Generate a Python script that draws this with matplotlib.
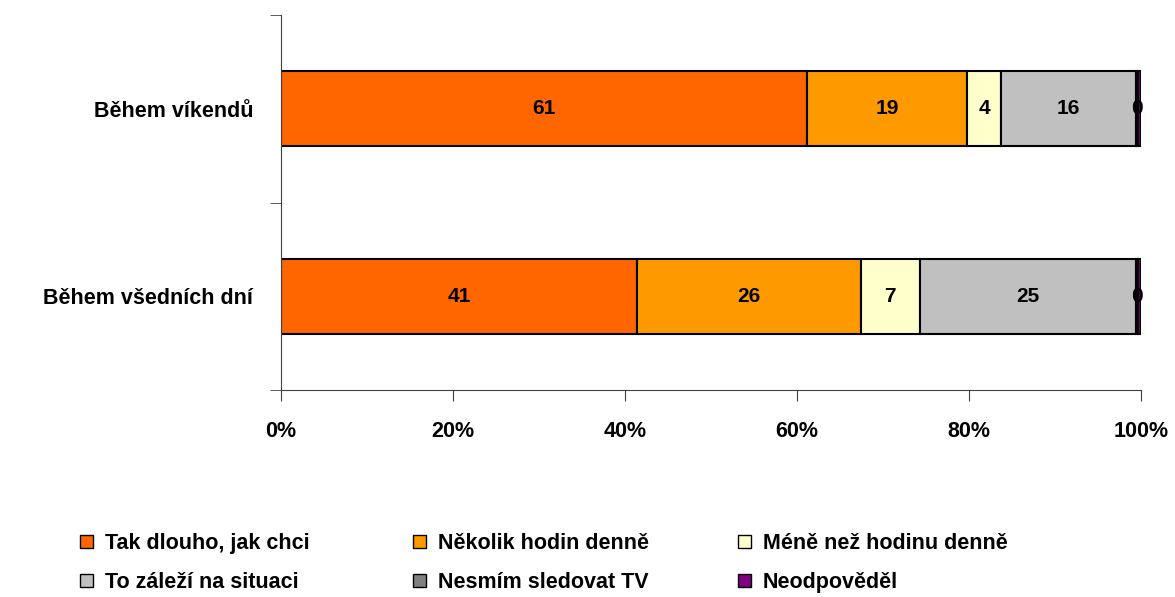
import numpy as np
import matplotlib
matplotlib.use("Agg")
import matplotlib.pyplot as plt
from matplotlib.patches import Rectangle

plt.rcParams['font.family'] = ['Liberation Sans', 'DejaVu Sans']
plt.rcParams['font.weight'] = 'bold'

# data
categories = ['Během všedních dní', 'Během víkendů']
series = ['Tak dlouho, jak chci', 'Několik hodin denně', 'Méně než hodinu denně',
          'To záleží na situaci', 'Nesmím sledovat TV', 'Neodpověděl']
values = [
    [41.4, 61.2],   # Tak dlouho, jak chci
    [26.0, 18.6],   # Několik hodin denně
    [6.9, 3.9],     # Méně než hodinu denně
    [25.1, 15.7],   # To záleží na situaci
    [0.3, 0.3],     # Nesmím sledovat TV
    [0.3, 0.3],     # Neodpověděl
]
colors = ['#FF6600', '#FF9900', '#FFFFCC', '#C0C0C0', '#808080', '#800080']

W, H = 1175, 597
fig = plt.figure(figsize=(W / 100, H / 100), dpi=100)
ax = fig.add_axes([281 / W, 1 - 390 / H, 860 / W, 375 / H])

y = np.arange(len(categories))
totals = np.sum(values, axis=0)
left = np.zeros(len(categories))
for k, (name, vals, col) in enumerate(zip(series, values, colors)):
    vals = np.array(vals)
    w = vals / totals * 100
    ax.barh(y, w, left=left, height=0.4, color=col, edgecolor='black',
            linewidth=1.5, label=name)
    # the two tiny end segments share one spot, so label it once
    if k < len(series) - 1:
        for yi, li, wi, vi in zip(y, left, w, vals):
            ax.text(li + wi / 2, yi, f'{vi:.0f}', ha='center', va='center',
                    fontsize=15, fontweight='bold', color='black')
    left += w

ax.set_xlim(0, 100)
ax.set_ylim(-0.5, 1.5)
ax.set_xticks(np.arange(0, 101, 20))
ax.set_xticklabels([f'{v}%' for v in range(0, 101, 20)], fontsize=15.5, fontweight='bold')
ax.set_yticks(y)
ax.set_yticklabels(categories, fontsize=15.5, fontweight='bold')
ax.set_yticks([-0.5, 0.5, 1.5], minor=True)
ax.tick_params(axis='y', which='major', length=0, pad=20)
ax.tick_params(axis='y', which='minor', length=8, color='#404040', direction='out')
ax.tick_params(axis='x', length=8, color='#404040', direction='out', pad=14)
for s in ['top', 'right']:
    ax.spines[s].set_visible(False)
for s in ['left', 'bottom']:
    ax.spines[s].set_color('#404040')

# legend, laid out row by row like the original
col_x = [80, 413, 738]
row_y = [541, 580]
for i, (name, col) in enumerate(zip(series, colors)):
    px = col_x[i % 3]
    py = row_y[i // 3]
    fig.add_artist(Rectangle((px / W, 1 - (py + 6.5) / H), 13 / W, 13 / H,
                             transform=fig.transFigure, facecolor=col,
                             edgecolor='black', linewidth=1))
    fig.text((px + 25) / W, 1 - py / H, name, ha='left', va='center_baseline',
             fontsize=15.5, fontweight='bold')

fig.savefig('out.png', dpi=100)
